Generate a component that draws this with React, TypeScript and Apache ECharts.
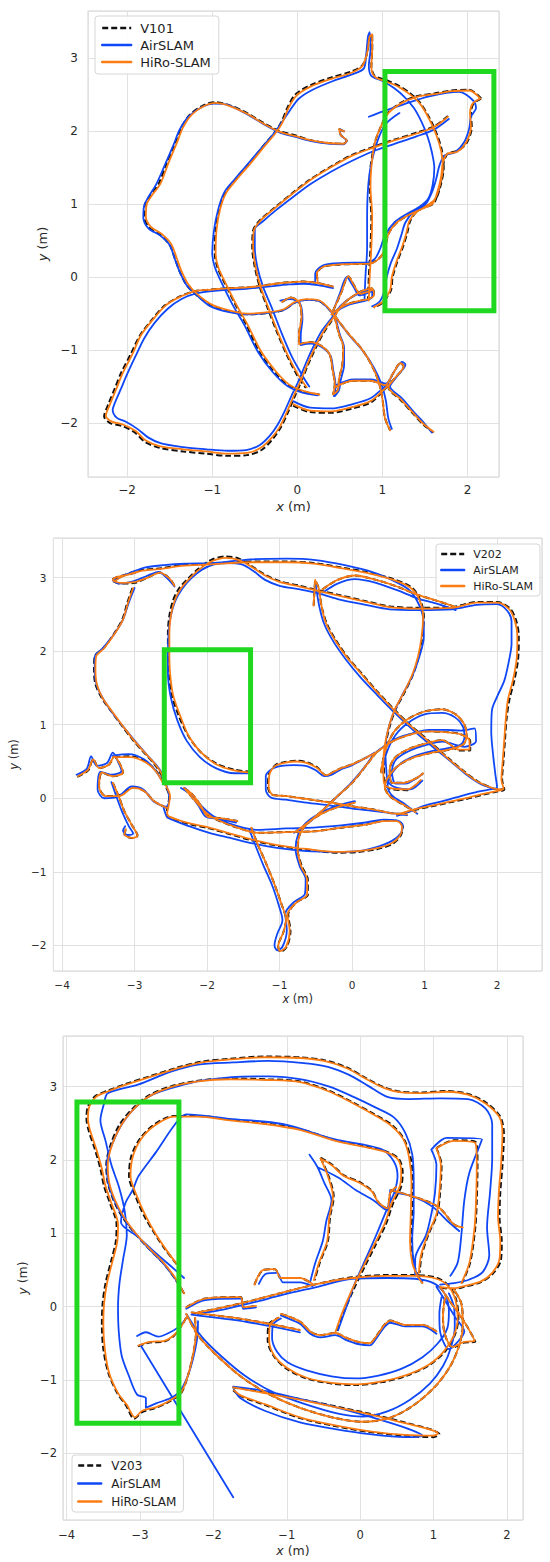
import { useEffect, useRef } from 'react';
import * as echarts from 'echarts';

// ---------- Panel 1 : V101 (strokes as flat x,y lists) ----------
const v101XRange = [-2.46, 2.37];
const v101YRange = [-2.74, 3.65];
const v101Box = [1.03, -0.46, 2.31, -0.46, 2.31, 2.82, 1.03, 2.82, 1.03, -0.46];

const v101HiRo: number[][] = [
  [0.55,2.0,0.49,2.03,0.51,1.95,0.58,1.87,0.54,1.83,0.36,1.84,0.15,1.88,-0.01,1.93,-0.22,2.0,-0.39,2.1,-0.59,2.24,-0.8,2.35,-0.97,2.39,-1.09,2.35,-1.24,2.23,-1.34,2.06,-1.42,1.83,-1.52,1.55,-1.61,1.28,-1.71,1.12,-1.77,1.0,-1.78,0.83,-1.72,0.69,-1.59,0.59,-1.48,0.45,-1.42,0.27,-1.36,0.08,-1.28,-0.1,-1.17,-0.24,-1.0,-0.38,-0.79,-0.46,-0.59,-0.5,-0.34,-0.48,-0.16,-0.44,-0.03,-0.34,0.11,-0.3,0.26,-0.32,0.38,-0.44,0.44,-0.55],
  [0.42,-0.13,0.24,-0.08,0.07,-0.06,-0.1,-0.07,-0.26,-0.09,-0.43,-0.12,-0.59,-0.14,-0.8,-0.15,-1.01,-0.17,-1.2,-0.19,-1.38,-0.27,-1.55,-0.39,-1.71,-0.6,-1.84,-0.8,-1.94,-1.06,-2.05,-1.31,-2.13,-1.54,-2.2,-1.74,-2.25,-1.9,-2.18,-1.98,-2.05,-2.02,-1.9,-2.11,-1.78,-2.24,-1.61,-2.32,-1.34,-2.36,-1.07,-2.39,-0.82,-2.42,-0.59,-2.41,-0.43,-2.34,-0.3,-2.2,-0.21,-2.06,-0.13,-1.87,-0.05,-1.65,0.04,-1.42,0.12,-1.19,0.21,-0.96,0.3,-0.76,0.38,-0.62,0.44,-0.53,0.52,-0.39,0.63,-0.28,0.76,-0.19,0.88,-0.15],
  [0.26,-1.61,0.07,-1.56,-0.1,-1.47,-0.26,-1.28,-0.43,-1.01,-0.59,-0.64,-0.72,-0.37,-0.84,-0.09,-0.93,0.14,-0.96,0.32,-0.95,0.64,-0.91,0.92,-0.84,1.15,-0.72,1.33,-0.55,1.56,-0.39,1.79,-0.26,1.97,-0.18,2.11,-0.1,2.33,-0.01,2.49,0.15,2.61,0.4,2.72,0.63,2.8,0.76,2.89,0.82,3.07,0.85,3.3,0.88,3.33,0.88,3.12,0.87,2.89,0.91,2.75,1.05,2.68,1.19,2.61,1.32,2.51,1.44,2.38,1.54,2.19,1.63,1.96,1.69,1.73,1.71,1.5,1.67,1.24,1.61,1.06,1.48,0.95,1.32,0.86,1.17,0.75,1.07,0.59,1.03,0.4,0.98,0.28,0.86,0.19,0.65,0.18,0.44,0.17,0.3,0.14,0.23,0.05,0.24,-0.07],
  [2.15,2.45,2.02,2.56,1.81,2.55,1.61,2.51,1.4,2.47,1.23,2.39,1.07,2.25,0.98,2.06,0.91,1.84,0.87,1.51,0.86,1.24,0.88,0.83,0.87,0.41,0.85,0.0,0.84,-0.32],
  [2.15,2.45,2.06,2.38,2.03,2.25,2.04,2.06,1.98,1.84,1.88,1.72,1.76,1.69,1.71,1.57,1.69,1.38,1.65,1.19,1.59,1.01,1.42,0.91,1.32,0.78,1.28,0.6,1.23,0.41,1.17,0.23,1.11,0.0,1.09,-0.18,1.0,-0.34,0.9,-0.41],
  [1.77,2.2,1.61,2.06,1.4,1.97,1.15,1.88,0.9,1.78,0.65,1.67,0.4,1.51,0.15,1.33,-0.05,1.15,-0.26,0.95,-0.43,0.78,-0.51,0.64,-0.52,0.41,-0.49,0.14,-0.43,-0.14,-0.34,-0.42,-0.22,-0.78,-0.1,-1.1,0.01,-1.34,0.11,-1.51],
  [-0.18,-0.34,-0.08,-0.28,0.02,-0.34,0.05,-0.55,0.02,-0.78,0.02,-0.92,0.15,-0.89,0.28,-0.94,0.38,-1.06,0.41,-1.24,0.44,-1.47,0.42,-1.61],
  [0.42,-0.46,0.51,-0.23,0.6,0.01,0.67,-0.12,0.74,-0.23,0.83,-0.2,0.89,-0.17,0.9,-0.25,0.83,-0.3,0.71,-0.33,0.59,-0.37,0.48,-0.44,0.4,-0.51],
  [0.44,-0.55,0.49,-0.78,0.54,-0.96,0.53,-1.19,0.49,-1.4,0.48,-1.54,0.42,-1.61],
  [0.44,-0.53,0.59,-0.76,0.76,-0.99,0.88,-1.22,0.96,-1.45,1.0,-1.67,1.03,-1.93,1.09,-2.1],
  [0.44,-1.51,0.65,-1.42,0.86,-1.42,1.03,-1.48,1.13,-1.31,1.21,-1.18,1.25,-1.22,1.15,-1.38,1.07,-1.51,1.21,-1.67,1.36,-1.86,1.48,-2.01,1.6,-2.12],
  [-0.05,-1.74,0.15,-1.83,0.4,-1.84,0.65,-1.78,0.86,-1.7,1.0,-1.56,1.07,-1.48],
];

const v101Truth: number[][] = [
  [0.55,2.0,0.49,2.03,0.51,1.95,0.58,1.87,0.54,1.83,0.36,1.84,0.15,1.88,-0.01,1.94,-0.22,2.01,-0.39,2.11,-0.59,2.25,-0.8,2.36,-0.97,2.4,-1.1,2.36,-1.26,2.23,-1.36,2.06,-1.44,1.83,-1.54,1.55,-1.63,1.28,-1.73,1.12,-1.79,1.0,-1.8,0.83,-1.74,0.68,-1.61,0.58,-1.5,0.44,-1.44,0.26,-1.38,0.07,-1.3,-0.11,-1.18,-0.25,-1.0,-0.39,-0.79,-0.47,-0.59,-0.51,-0.34,-0.49,-0.16,-0.45,-0.03,-0.35,0.11,-0.31,0.26,-0.33,0.38,-0.45,0.44,-0.56],
  [0.42,-0.13,0.24,-0.08,0.07,-0.06,-0.1,-0.07,-0.26,-0.09,-0.43,-0.12,-0.59,-0.14,-0.8,-0.15,-1.01,-0.17,-1.2,-0.19,-1.39,-0.27,-1.56,-0.39,-1.72,-0.6,-1.85,-0.8,-1.96,-1.06,-2.07,-1.31,-2.15,-1.54,-2.22,-1.74,-2.27,-1.91,-2.2,-2.0,-2.06,-2.04,-1.91,-2.13,-1.79,-2.26,-1.62,-2.34,-1.34,-2.39,-1.07,-2.42,-0.82,-2.45,-0.59,-2.44,-0.42,-2.37,-0.29,-2.22,-0.2,-2.07,-0.12,-1.88,-0.04,-1.66,0.05,-1.42,0.13,-1.19,0.22,-0.96,0.31,-0.76,0.39,-0.62,0.44,-0.53,0.52,-0.39,0.63,-0.28,0.76,-0.19,0.88,-0.15],
  [0.26,-1.61,0.07,-1.57,-0.11,-1.48,-0.28,-1.29,-0.45,-1.02,-0.6,-0.65,-0.73,-0.37,-0.85,-0.09,-0.94,0.14,-0.97,0.32,-0.96,0.64,-0.92,0.92,-0.85,1.15,-0.73,1.34,-0.56,1.57,-0.4,1.8,-0.27,1.98,-0.19,2.12,-0.11,2.34,-0.02,2.51,0.15,2.63,0.4,2.74,0.63,2.82,0.76,2.9,0.82,3.07,0.85,3.3,0.88,3.33,0.88,3.12,0.87,2.89,0.91,2.76,1.05,2.7,1.2,2.62,1.33,2.52,1.45,2.38,1.55,2.19,1.64,1.96,1.7,1.73,1.72,1.5,1.68,1.24,1.62,1.06,1.48,0.95,1.32,0.86,1.17,0.75,1.07,0.59,1.03,0.4,0.98,0.28,0.86,0.19,0.65,0.18,0.44,0.17,0.3,0.14,0.23,0.05,0.24,-0.07],
  [2.16,2.45,2.02,2.57,1.81,2.56,1.61,2.52,1.4,2.48,1.23,2.4,1.07,2.26,0.98,2.06,0.91,1.84,0.86,1.51,0.85,1.24,0.87,0.83,0.86,0.41,0.84,0.0,0.83,-0.32],
  [2.16,2.45,2.07,2.38,2.04,2.25,2.05,2.06,1.99,1.84,1.88,1.73,1.77,1.7,1.72,1.57,1.7,1.38,1.66,1.19,1.6,1.01,1.42,0.92,1.33,0.78,1.29,0.6,1.24,0.41,1.18,0.23,1.12,0.0,1.1,-0.18,1.0,-0.35,0.9,-0.42],
  [1.77,2.21,1.61,2.07,1.4,1.98,1.15,1.89,0.9,1.79,0.65,1.68,0.4,1.52,0.15,1.34,-0.05,1.16,-0.26,0.96,-0.44,0.78,-0.52,0.64,-0.53,0.41,-0.5,0.14,-0.44,-0.14,-0.35,-0.42,-0.23,-0.78,-0.11,-1.1,0.0,-1.35,0.1,-1.52],
  [-0.18,-0.34,-0.08,-0.28,0.02,-0.34,0.05,-0.55,0.02,-0.78,0.02,-0.92,0.15,-0.89,0.28,-0.94,0.38,-1.06,0.41,-1.24,0.44,-1.47,0.42,-1.61],
  [0.42,-0.46,0.51,-0.23,0.6,0.01,0.67,-0.12,0.74,-0.23,0.83,-0.2,0.89,-0.17,0.9,-0.25,0.83,-0.3,0.71,-0.33,0.59,-0.37,0.48,-0.44,0.4,-0.51],
  [0.44,-0.55,0.49,-0.78,0.54,-0.96,0.53,-1.19,0.49,-1.4,0.48,-1.54,0.42,-1.61],
  [0.44,-0.53,0.59,-0.76,0.76,-0.99,0.88,-1.22,0.96,-1.45,1.0,-1.67,1.03,-1.93,1.09,-2.1],
  [0.44,-1.51,0.65,-1.42,0.86,-1.42,1.03,-1.48,1.13,-1.31,1.21,-1.18,1.25,-1.22,1.15,-1.38,1.07,-1.51,1.21,-1.68,1.36,-1.87,1.48,-2.02,1.6,-2.13],
  [-0.05,-1.76,0.15,-1.85,0.4,-1.86,0.65,-1.8,0.86,-1.72,1.0,-1.57,1.07,-1.48],
];

const v101Air: number[][] = [
  [0.55,2.0,0.5,2.03,0.51,1.95,0.58,1.87,0.54,1.82,0.36,1.83,0.15,1.87,-0.01,1.92,-0.22,1.99,-0.4,2.1,-0.6,2.24,-0.81,2.36,-0.98,2.38,-1.11,2.34,-1.27,2.21,-1.38,2.03,-1.46,1.8,-1.56,1.53,-1.66,1.27,-1.75,1.1,-1.8,0.98,-1.81,0.82,-1.75,0.67,-1.61,0.57,-1.5,0.44,-1.44,0.25,-1.38,0.07,-1.3,-0.11,-1.18,-0.25,-1.02,-0.4,-0.8,-0.48,-0.58,-0.51,-0.34,-0.49,-0.16,-0.45,-0.03,-0.35,0.11,-0.31,0.26,-0.33,0.38,-0.45,0.44,-0.56],
  [0.42,-0.15,0.24,-0.11,0.07,-0.09,-0.1,-0.1,-0.26,-0.12,-0.43,-0.14,-0.6,-0.16,-0.8,-0.17,-1.0,-0.19,-1.18,-0.22,-1.36,-0.3,-1.52,-0.43,-1.68,-0.63,-1.8,-0.84,-1.9,-1.08,-2.0,-1.33,-2.08,-1.55,-2.15,-1.74,-2.17,-1.82,-2.12,-1.93,-2.02,-1.98,-1.88,-2.08,-1.75,-2.2,-1.6,-2.28,-1.34,-2.33,-1.07,-2.36,-0.82,-2.38,-0.6,-2.37,-0.44,-2.3,-0.32,-2.17,-0.23,-2.02,-0.15,-1.84,-0.07,-1.63,0.02,-1.41,0.1,-1.18,0.19,-0.95,0.28,-0.75,0.37,-0.61,0.43,-0.52,0.51,-0.39,0.62,-0.29,0.75,-0.21,0.87,-0.17],
  [0.24,-1.62,0.05,-1.58,-0.12,-1.49,-0.29,-1.3,-0.46,-1.03,-0.62,-0.66,-0.76,-0.38,-0.88,-0.1,-0.97,0.14,-1.0,0.33,-0.98,0.64,-0.93,0.93,-0.86,1.16,-0.73,1.35,-0.56,1.58,-0.4,1.8,-0.27,1.98,-0.19,2.11,-0.08,2.3,0.02,2.45,0.18,2.57,0.42,2.69,0.64,2.78,0.78,2.86,0.81,3.06,0.83,3.3,0.85,3.36,0.86,3.12,0.84,2.9,0.87,2.76,1.0,2.69,1.14,2.59,1.26,2.47,1.37,2.32,1.46,2.13,1.53,1.93,1.58,1.72,1.61,1.5,1.59,1.26,1.54,1.08,1.44,0.97,1.29,0.87,1.14,0.75,1.03,0.57,0.97,0.38,0.91,0.25,0.82,0.2,0.65,0.2,0.44,0.19,0.3,0.16,0.21,0.05,0.21,-0.07],
  [0.84,2.2,1.0,2.27,1.25,2.37,1.55,2.48,1.9,2.54,2.06,2.43,2.1,2.32,2.04,2.2,2.02,2.04,1.96,1.85,1.85,1.71,1.73,1.67,1.67,1.53,1.63,1.34,1.58,1.16,1.5,0.99,1.36,0.89,1.27,0.75,1.22,0.57,1.17,0.39,1.1,0.2,1.05,0.0,1.02,-0.2,0.97,-0.33,0.88,-0.4],
  [1.2,2.25,1.04,2.1,0.94,1.86,0.86,1.5,0.83,1.2,0.82,0.8,0.82,0.4,0.8,0.0,0.79,-0.3],
  [1.78,2.17,1.6,2.02,1.4,1.93,1.15,1.83,0.9,1.73,0.65,1.6,0.4,1.45,0.16,1.28,-0.05,1.1,-0.25,0.92,-0.41,0.76,-0.5,0.66,-0.5,0.41,-0.47,0.14,-0.4,-0.14,-0.3,-0.42,-0.18,-0.78,-0.06,-1.1,0.05,-1.33,0.14,-1.5],
  [-0.2,-0.32,-0.08,-0.3,0.03,-0.36,0.06,-0.57,0.04,-0.8,0.04,-0.93,0.16,-0.91,0.29,-0.96,0.39,-1.08,0.42,-1.26,0.45,-1.5,0.43,-1.63],
  [0.42,-0.47,0.5,-0.22,0.58,0.0,0.66,-0.13,0.73,-0.25,0.82,-0.22,0.88,-0.19,0.88,-0.27,0.81,-0.32,0.7,-0.35,0.58,-0.39,0.47,-0.46,0.41,-0.52],
  [0.45,-0.56,0.5,-0.79,0.55,-0.97,0.55,-1.2,0.51,-1.41,0.49,-1.55,0.44,-1.63],
  [0.45,-0.55,0.6,-0.78,0.77,-1.01,0.9,-1.24,0.99,-1.47,1.04,-1.69,1.07,-1.94,1.11,-2.08],
  [0.46,-1.48,0.66,-1.4,0.87,-1.4,1.04,-1.46,1.14,-1.29,1.23,-1.16,1.27,-1.2,1.17,-1.36,1.09,-1.5,1.23,-1.66,1.37,-1.85,1.49,-2.0,1.58,-2.13],
  [-0.05,-1.7,0.15,-1.79,0.4,-1.8,0.65,-1.74,0.86,-1.66,1.0,-1.53,1.07,-1.46],
];

// ---------- Panel 2 : V202 ----------
const v202XRange = [-4.12, 2.62];
const v202YRange = [-2.35, 3.54];
const v202Box = [-2.59, 0.21, -1.4, 0.21, -1.4, 2.02, -2.59, 2.02, -2.59, 0.21];

const v202HiRo: number[][] = [
  [-1.39,0.35,-1.63,0.38,-1.87,0.46,-2.08,0.62,-2.25,0.84,-2.37,1.12,-2.47,1.41,-2.51,1.7,-2.52,1.98,-2.52,2.25,-2.5,2.48,-2.45,2.68,-2.37,2.84,-2.25,2.98,-2.11,3.11,-1.94,3.22,-1.75,3.27,-1.56,3.24,-1.39,3.15,-1.2,3.03,-0.99,2.94,-0.72,2.88,-0.51,2.83,-0.2,2.76,0.19,2.67,0.52,2.6,0.9,2.58,1.38,2.59,1.72,2.66,2.0,2.66,2.16,2.58,2.24,2.43,2.28,2.2,2.27,1.89,2.22,1.61,2.15,1.34,2.12,1.07,2.1,0.8,2.08,0.53,2.06,0.25,2.09,0.13,2.0,0.1,1.81,0.06,1.57,0.0,1.33,-0.05,1.1,-0.1,0.86,-0.15,0.62,-0.22],
  [-3.28,2.95,-3.16,3.02,-2.92,3.09,-2.63,3.12,-2.35,3.16,-1.97,3.18,-1.39,3.21,-0.91,3.21,-0.53,3.19,-0.15,3.13,0.23,3.06,0.57,2.97,0.81,2.86,0.93,2.7,0.98,2.48,0.96,2.2,0.91,1.93,0.83,1.68,0.71,1.43,0.59,1.21,0.51,0.98,0.45,0.71,0.43,0.44,0.44,0.21,0.52,0.14,0.76,0.12,0.95,0.25],
  [-2.45,2.89,-2.52,2.99,-2.65,3.07,-2.82,3.0,-3.0,2.94,-3.2,2.93,-3.3,2.97,-3.24,3.01,-3.1,3.04,-2.95,3.08],
  [-3.02,2.86,-3.09,2.66,-3.16,2.43,-3.28,2.23,-3.42,2.04,-3.53,1.93,-3.54,1.75,-3.52,1.55,-3.44,1.36,-3.31,1.18,-3.16,0.98,-3.02,0.8,-2.86,0.62,-2.73,0.48,-2.63,0.34,-2.56,0.16,-2.51,0.03,-2.53,-0.1,-2.55,-0.21,-2.52,-0.25,-2.25,-0.34,-1.97,-0.4,-1.68,-0.48,-1.39,-0.56,-1.01,-0.64,-0.63,-0.69,-0.2,-0.73,0.09,-0.72,0.35,-0.68,0.55,-0.61,0.66,-0.51,0.69,-0.39,0.62,-0.31,0.43,-0.31,0.19,-0.36,-0.15,-0.4,-0.53,-0.45,-0.91,-0.46,-1.3,-0.47,-1.58,-0.4,-1.87,-0.29,-2.01,-0.2,-2.16,-0.04,-2.3,0.12],
  [-1.39,-0.4,-1.3,-0.63,-1.18,-0.9,-1.07,-1.17,-0.97,-1.45,-0.91,-1.65,-0.95,-1.83,-1.02,-2.01,-0.99,-2.08,-0.91,-2.02,-0.86,-1.81,-0.89,-1.58,-0.77,-1.42,-0.62,-1.31,-0.62,-1.11,-0.7,-0.93,-0.75,-0.7,-0.72,-0.49,-0.62,-0.35,-0.44,-0.22,-0.2,-0.12,0.04,-0.06],
  [-0.5,2.95,-0.46,2.86,-0.42,2.61,-0.36,2.38,-0.24,2.16,-0.08,1.93,0.12,1.7,0.33,1.46,0.57,1.21,0.81,0.98,1.05,0.78,1.29,0.57,1.53,0.37,1.74,0.22,1.96,0.13,2.08,0.12],
  [-0.53,2.62,-0.51,2.97],
  [-0.41,2.84,-0.2,2.97,0.04,3.03,0.33,2.97,0.62,2.88,0.9,2.77,1.19,2.68,1.43,2.6],
  [0.4,0.35,0.45,0.62,0.57,0.89,0.76,1.07,1.0,1.18,1.24,1.21,1.43,1.14,1.55,1.0,1.58,0.84,1.53,0.73,1.33,0.66,1.1,0.62,0.86,0.56,0.66,0.46,0.52,0.32,0.45,0.16,0.52,0.03,0.71,-0.09,0.88,-0.19],
  [0.33,0.62,0.57,0.78,0.81,0.87,1.05,0.91,1.29,0.9,1.5,0.87,1.62,0.78,1.62,0.66,1.48,0.66,1.24,0.79,1.0,0.74,0.76,0.66,0.59,0.55,0.52,0.39,0.55,0.21,0.71,0.21,0.9,0.28,0.98,0.34],
  [0.33,0.62,0.19,0.55,0.0,0.46,-0.15,0.41,-0.27,0.35,-0.36,0.31,-0.48,0.41,-0.63,0.48,-0.77,0.5,-0.94,0.48,-1.06,0.44,-1.14,0.32,-1.15,0.16,-1.1,0.05,-0.91,0.03,-0.63,-0.01,-0.29,-0.06,0.0,-0.11,0.28,-0.15,0.52,-0.2,0.76,-0.22],
  [-0.77,-0.45,-0.58,-0.31,-0.39,-0.15,-0.2,0.03,0.0,0.21,0.19,0.44,0.33,0.62],
  [-3.78,0.3,-3.64,0.39,-3.57,0.53,-3.49,0.41,-3.35,0.46,-3.28,0.57,-3.21,0.48,-3.16,0.35,-3.3,0.3,-3.45,0.35,-3.49,0.16,-3.4,0.03,-3.21,0.03,-3.02,0.14,-2.87,0.1,-2.73,-0.04,-2.56,-0.13],
  [-3.3,0.21,-3.22,0.03,-3.14,-0.18,-3.04,-0.36,-2.96,-0.51,-3.04,-0.54,-3.14,-0.49,-3.12,-0.42],
  [-3.28,0.56,-3.06,0.56,-2.85,0.49,-2.71,0.37,-2.61,0.21],
  [-2.32,0.14,-2.2,0.05,-2.08,-0.11,-1.99,-0.25,-1.82,-0.27,-1.58,-0.31],
];

const v202Truth: number[][] = [
  [-1.39,0.36,-1.63,0.39,-1.87,0.47,-2.09,0.63,-2.26,0.85,-2.39,1.12,-2.49,1.41,-2.53,1.7,-2.54,1.98,-2.54,2.25,-2.52,2.48,-2.47,2.69,-2.39,2.85,-2.26,2.99,-2.12,3.12,-1.95,3.24,-1.75,3.29,-1.56,3.26,-1.39,3.16,-1.2,3.04,-0.99,2.95,-0.72,2.89,-0.51,2.84,-0.2,2.77,0.19,2.68,0.52,2.61,0.9,2.59,1.38,2.6,1.72,2.67,2.0,2.67,2.17,2.59,2.26,2.43,2.3,2.2,2.29,1.89,2.24,1.61,2.17,1.34,2.13,1.07,2.11,0.8,2.09,0.53,2.07,0.25,2.1,0.12,2.0,0.09,1.81,0.05,1.57,-0.01,1.33,-0.06,1.1,-0.11,0.86,-0.16,0.62,-0.23],
  [-3.29,2.95,-3.16,3.03,-2.92,3.1,-2.63,3.13,-2.35,3.17,-1.97,3.19,-1.39,3.22,-0.91,3.22,-0.53,3.2,-0.15,3.14,0.23,3.07,0.57,2.98,0.82,2.87,0.94,2.7,0.99,2.48,0.97,2.2,0.92,1.93,0.84,1.68,0.72,1.43,0.6,1.21,0.52,0.98,0.46,0.71,0.44,0.44,0.45,0.21,0.52,0.13,0.76,0.11,0.95,0.24],
  [-2.45,2.89,-2.52,2.99,-2.65,3.07,-2.82,3.0,-3.0,2.93,-3.2,2.92,-3.31,2.97,-3.24,3.01,-3.1,3.04,-2.95,3.08],
  [-3.03,2.86,-3.1,2.66,-3.17,2.43,-3.29,2.23,-3.43,2.04,-3.55,1.93,-3.56,1.75,-3.54,1.55,-3.45,1.36,-3.32,1.18,-3.17,0.98,-3.03,0.8,-2.87,0.62,-2.74,0.48,-2.64,0.34,-2.57,0.16,-2.52,0.03,-2.54,-0.1,-2.56,-0.21,-2.52,-0.26,-2.25,-0.35,-1.97,-0.41,-1.68,-0.49,-1.39,-0.57,-1.01,-0.65,-0.63,-0.7,-0.2,-0.74,0.09,-0.73,0.35,-0.69,0.56,-0.62,0.67,-0.51,0.7,-0.39,0.62,-0.31,0.43,-0.31,0.19,-0.36,-0.15,-0.4,-0.53,-0.45,-0.91,-0.46,-1.3,-0.47,-1.58,-0.4,-1.87,-0.29,-2.01,-0.2,-2.16,-0.04,-2.3,0.12],
  [-1.39,-0.4,-1.3,-0.63,-1.18,-0.9,-1.07,-1.17,-0.97,-1.45,-0.91,-1.65,-0.95,-1.83,-1.02,-2.01,-0.99,-2.09,-0.9,-2.02,-0.85,-1.81,-0.88,-1.58,-0.77,-1.42,-0.61,-1.31,-0.61,-1.11,-0.69,-0.93,-0.75,-0.7,-0.72,-0.49,-0.62,-0.35,-0.44,-0.22,-0.2,-0.12,0.04,-0.06],
  [-0.5,2.95,-0.46,2.86,-0.42,2.61,-0.35,2.38,-0.23,2.16,-0.07,1.93,0.13,1.7,0.34,1.46,0.58,1.21,0.82,0.98,1.06,0.78,1.3,0.57,1.54,0.37,1.75,0.22,1.96,0.13,2.08,0.12],
  [-0.53,2.62,-0.51,2.97],
  [-0.41,2.84,-0.2,2.97,0.04,3.03,0.33,2.97,0.62,2.88,0.9,2.77,1.19,2.68,1.43,2.6],
  [0.4,0.35,0.45,0.62,0.57,0.89,0.76,1.07,1.0,1.18,1.24,1.21,1.43,1.14,1.55,1.0,1.58,0.84,1.53,0.73,1.33,0.66,1.1,0.62,0.86,0.56,0.66,0.46,0.52,0.32,0.45,0.16,0.52,0.03,0.71,-0.09,0.88,-0.19],
  [0.33,0.62,0.57,0.78,0.81,0.87,1.05,0.91,1.29,0.9,1.5,0.87,1.63,0.78,1.63,0.65,1.48,0.65,1.24,0.79,1.0,0.74,0.76,0.66,0.59,0.55,0.52,0.39,0.55,0.21,0.71,0.21,0.9,0.28,0.98,0.34],
  [0.33,0.62,0.19,0.55,0.0,0.46,-0.15,0.41,-0.27,0.35,-0.36,0.31,-0.48,0.42,-0.63,0.49,-0.77,0.51,-0.94,0.49,-1.06,0.45,-1.15,0.32,-1.16,0.16,-1.11,0.05,-0.91,0.03,-0.63,-0.01,-0.29,-0.06,0.0,-0.11,0.28,-0.15,0.52,-0.2,0.76,-0.22],
  [-0.77,-0.45,-0.58,-0.31,-0.39,-0.15,-0.2,0.03,0.0,0.21,0.19,0.44,0.33,0.62],
  [-3.79,0.29,-3.64,0.38,-3.57,0.53,-3.49,0.41,-3.35,0.46,-3.28,0.57,-3.21,0.48,-3.16,0.35,-3.3,0.3,-3.45,0.35,-3.49,0.16,-3.4,0.03,-3.21,0.04,-3.02,0.15,-2.87,0.1,-2.73,-0.04,-2.56,-0.13],
  [-3.3,0.21,-3.22,0.03,-3.14,-0.18,-3.04,-0.36,-2.96,-0.51,-3.04,-0.54,-3.14,-0.49,-3.12,-0.42],
  [-3.28,0.56,-3.06,0.57,-2.85,0.5,-2.7,0.37,-2.6,0.21],
  [-2.32,0.14,-2.2,0.05,-2.08,-0.11,-1.99,-0.25,-1.82,-0.27,-1.58,-0.31],
];

const v202Air: number[][] = [
  [-1.39,0.34,-1.62,0.34,-1.88,0.41,-2.1,0.56,-2.28,0.78,-2.41,1.06,-2.5,1.37,-2.54,1.7,-2.54,1.98,-2.53,2.25,-2.5,2.48,-2.44,2.68,-2.35,2.84,-2.22,2.99,-2.07,3.11,-1.9,3.18,-1.72,3.2,-1.52,3.18,-1.36,3.09,-1.2,2.97,-1.0,2.89,-0.72,2.84,-0.48,2.79,-0.2,2.71,0.19,2.63,0.52,2.57,0.9,2.56,1.38,2.57,1.72,2.63,2.0,2.64,2.14,2.55,2.2,2.4,2.2,2.1,2.16,1.85,2.1,1.6,2.0,1.38,1.93,1.2,1.92,0.9,1.95,0.55,1.98,0.3,2.0,0.15,1.9,0.12,1.7,0.08,1.5,0.03,1.25,-0.04,1.0,-0.1,0.8,-0.18,0.62,-0.24],
  [-3.28,2.96,-3.1,3.05,-2.85,3.14,-2.6,3.17,-2.3,3.19,-1.9,3.2,-1.4,3.25,-0.9,3.26,-0.5,3.24,-0.1,3.17,0.3,3.07,0.57,2.96,0.78,2.84,0.9,2.68,0.98,2.46,0.99,2.2,0.93,1.93,0.83,1.66,0.68,1.38,0.56,1.13,0.49,0.9,0.46,0.66,0.47,0.42,0.5,0.22,0.62,0.14,0.8,0.12,0.97,0.24],
  [-2.45,2.88,-2.55,2.99,-2.67,3.08,-2.84,3.02,-3.02,2.95,-3.22,2.92,-3.3,2.96],
  [-3.0,2.86,-3.08,2.66,-3.16,2.43,-3.29,2.22,-3.44,2.04,-3.55,1.92,-3.55,1.72,-3.52,1.53,-3.42,1.33,-3.28,1.13,-3.12,0.93,-2.97,0.75,-2.82,0.58,-2.7,0.45,-2.6,0.3,-2.55,0.14,-2.52,0.0,-2.55,-0.11,-2.6,-0.12,-2.57,-0.22,-2.55,-0.26,-2.25,-0.38,-1.97,-0.47,-1.68,-0.54,-1.39,-0.61,-1.01,-0.68,-0.63,-0.72,-0.2,-0.73,0.09,-0.72,0.35,-0.66,0.55,-0.58,0.67,-0.48,0.7,-0.37,0.62,-0.3,0.43,-0.29,0.19,-0.33,-0.15,-0.37,-0.53,-0.4,-0.91,-0.41,-1.3,-0.43,-1.58,-0.38,-1.87,-0.27,-2.01,-0.17,-2.16,-0.02,-2.31,0.14],
  [-1.42,-0.42,-1.33,-0.65,-1.22,-0.92,-1.1,-1.19,-1.01,-1.46,-0.96,-1.66,-1.03,-1.84,-1.07,-2.0,-1.03,-2.07,-0.96,-2.02,-0.9,-1.8,-0.92,-1.57,-0.8,-1.41,-0.65,-1.3,-0.64,-1.1,-0.72,-0.93,-0.78,-0.69,-0.74,-0.48,-0.64,-0.34,-0.46,-0.21,-0.2,-0.1,0.04,-0.04],
  [-0.5,2.9,-0.45,2.6,-0.38,2.36,-0.25,2.12,-0.08,1.88,0.12,1.64,0.35,1.4,0.6,1.15,0.85,0.92,1.1,0.71,1.35,0.51,1.58,0.32,1.8,0.18,2.0,0.12],
  [-0.4,2.8,-0.2,2.92,0.04,2.98,0.33,2.93,0.62,2.83,0.9,2.72,1.19,2.64,1.43,2.56],
  [0.42,0.35,0.47,0.6,0.6,0.86,0.78,1.03,1.0,1.14,1.24,1.16,1.42,1.1,1.53,0.97,1.55,0.83,1.5,0.73,1.32,0.68,1.1,0.64,0.88,0.58,0.68,0.48,0.55,0.34,0.49,0.17,0.55,0.04,0.73,-0.08,0.9,-0.21],
  [0.35,0.64,0.58,0.8,0.82,0.88,1.06,0.93,1.3,0.93,1.5,0.92,1.69,0.95,1.71,0.78,1.55,0.7,1.25,0.77,1.0,0.72,0.78,0.64,0.61,0.53,0.55,0.37,0.6,0.2,0.74,0.2,0.9,0.28,0.97,0.33],
  [0.31,0.62,0.17,0.54,-0.02,0.44,-0.16,0.39,-0.28,0.32,-0.38,0.3,-0.5,0.38,-0.64,0.44,-0.8,0.45,-0.97,0.44,-1.1,0.4,-1.19,0.3,-1.19,0.12,-1.12,0.01,-0.91,-0.02,-0.63,-0.06,-0.29,-0.1,0.0,-0.14,0.28,-0.17,0.52,-0.2,0.76,-0.23],
  [-0.8,-0.47,-0.6,-0.33,-0.41,-0.17,-0.22,0.01,-0.03,0.19,0.17,0.42,0.31,0.62],
  [-3.8,0.32,-3.66,0.4,-3.6,0.57,-3.52,0.44,-3.38,0.48,-3.3,0.62,-3.23,0.5,-3.18,0.37,-3.32,0.32,-3.47,0.36,-3.51,0.12,-3.42,0.0,-3.23,0.02,-3.04,0.16,-2.88,0.12,-2.74,-0.04,-2.58,-0.12],
  [-3.32,0.22,-3.25,0.02,-3.17,-0.19,-3.08,-0.38,-3.02,-0.48,-3.1,-0.5,-3.16,-0.44,-3.13,-0.38],
  [-3.3,0.58,-3.08,0.6,-2.87,0.53,-2.73,0.4,-2.62,0.24],
  [-2.36,0.14,-2.24,0.06,-2.12,-0.1,-2.02,-0.25,-1.85,-0.28,-1.6,-0.33],
];

// ---------- Panel 3 : V203 ----------
const v203XRange = [-4.05, 2.22];
const v203YRange = [-2.91, 3.69];
const v203Box = [-3.86, -1.59, -2.47, -1.59, -2.47, 2.79, -3.86, 2.79, -3.86, -1.59];

const v203HiRo: number[][] = [
  [-2.25,-0.15,-2.24,-0.39,-2.28,-0.67,-2.35,-0.95,-2.44,-1.17,-2.59,-1.28,-2.78,-1.37,-2.97,-1.42,-3.07,-1.51,-3.18,-1.34,-3.3,-1.18,-3.42,-0.91,-3.48,-0.58,-3.5,-0.25,-3.49,0.04,-3.45,0.32,-3.38,0.6,-3.31,0.89,-3.3,1.12,-3.39,1.41,-3.47,1.64,-3.52,1.88,-3.6,2.16,-3.68,2.4,-3.71,2.56,-3.69,2.73,-3.6,2.86,-3.45,2.93,-3.21,3.02,-2.87,3.13,-2.49,3.25,-2.16,3.33,-1.78,3.37,-1.3,3.4,-0.82,3.39,-0.49,3.35,-0.18,3.25,0.09,3.1,0.33,2.98,0.56,2.92,0.85,2.91,1.18,2.93,1.47,2.89,1.71,2.77,1.9,2.58,1.94,2.35,1.92,1.93,1.89,1.55,1.88,1.22,1.91,0.89,1.9,0.65,1.8,0.46,1.64,0.34,1.42,0.28,1.28,0.25,1.09,0.27],
  [-2.4,0.18,-2.52,0.39,-2.68,0.6,-2.87,0.79,-3.06,1.0,-3.22,1.22,-3.34,1.45,-3.42,1.69,-3.44,1.93,-3.38,2.21,-3.26,2.47,-3.09,2.69,-2.87,2.87,-2.59,2.99,-2.21,3.07,-1.78,3.1,-1.25,3.09,-0.82,3.06,-0.44,2.94,-0.11,2.78,0.18,2.62,0.42,2.47,0.59,2.28,0.67,2.02,0.7,1.69,0.69,1.26,0.68,0.89,0.71,0.6,0.78,0.42,0.85,0.32],
  [-2.5,0.58,-2.64,0.77,-2.78,0.98,-2.92,1.23,-3.04,1.5,-3.13,1.78,-3.1,2.04,-2.99,2.28,-2.8,2.47,-2.54,2.59,-2.21,2.59,-1.78,2.54,-1.3,2.49,-0.82,2.41,-0.34,2.26,0.09,2.17,0.37,2.1,0.52,2.0,0.56,1.83,0.54,1.64,0.43,1.41,0.33,1.12,0.19,0.84,0.05,0.56,-0.11,0.23,-0.25,-0.1,-0.34,-0.36],
  [-2.21,-0.08,-1.82,0.0,-1.44,0.09,-1.06,0.19,-0.58,0.31,-0.11,0.39,0.37,0.42,0.75,0.42,1.04,0.38,1.21,0.27,1.3,0.09,1.33,-0.15,1.28,-0.39,1.15,-0.6,0.94,-0.79,0.64,-0.93,0.3,-1.02,-0.06,-1.06,-0.39,-1.04,-0.73,-0.97,-0.99,-0.84,-1.17,-0.67,-1.24,-0.46,-1.23,-0.25,-1.11,-0.15],
  [-2.37,-0.1,-2.21,-0.39,-1.97,-0.65,-1.63,-0.95,-1.25,-1.19,-0.82,-1.38,-0.34,-1.52,0.04,-1.57,0.42,-1.51,0.75,-1.33,1.04,-1.07,1.23,-0.81,1.35,-0.53,1.4,-0.25,1.38,0.04,1.28,0.23],
  [-1.73,-1.1,-1.3,-1.18,-0.82,-1.27,-0.34,-1.37,0.13,-1.47,0.61,-1.59,0.97,-1.68,1.06,-1.73,0.99,-1.76,0.61,-1.75,0.13,-1.7,-0.34,-1.62,-0.82,-1.51,-1.3,-1.33,-1.63,-1.21,-1.72,-1.14],
  [-3.02,-0.53,-2.87,-0.48,-2.68,-0.47,-2.54,-0.39,-2.44,-0.27,-2.37,-0.15],
  [-2.37,-0.01,-2.11,0.11,-1.63,0.13,-1.59,-0.01,-1.42,0.01],
  [-1.44,0.3,-1.32,0.5,-1.16,0.51,-1.08,0.39,-0.82,0.39,-0.65,0.31],
  [-0.54,2.02,-0.39,1.93,-0.22,1.78,-0.01,1.69,0.16,1.57,0.25,1.42,0.37,1.34,0.41,1.55,0.49,1.63],
  [-0.54,2.02,-0.44,1.78,-0.37,1.5,-0.42,1.22,-0.45,0.89,-0.56,0.6,-0.63,0.36],
  [1.04,2.16,1.28,2.26,1.57,2.23,1.59,1.93,1.58,1.45,1.56,1.08,1.49,0.6,1.38,0.32],
  [1.04,2.16,1.1,1.93,1.08,1.55,1.04,1.26,0.92,0.98,0.83,0.7,0.8,0.46],
  [0.42,1.59,0.66,1.52,0.9,1.44,1.09,1.34,1.28,1.12,1.4,1.08],
  [-1.08,-0.1,-0.96,-0.14,-0.81,-0.21,-0.68,-0.34,-0.54,-0.39,-0.34,-0.36,-0.18,-0.43,-0.03,-0.48,0.13,-0.5,0.23,-0.39,0.33,-0.25,0.41,-0.19,0.61,-0.25,0.85,-0.25,1.04,-0.34],
  [-2.3,-0.08,-1.54,-0.18,-0.82,-0.32],
  [1.09,0.27,1.21,0.09,1.35,-0.1,1.47,-0.29,1.56,-0.47,1.42,-0.48,1.26,-0.55,1.15,-0.36,1.13,-0.1,1.16,0.13],
];

const v203Truth: number[][] = [
  [-2.25,-0.15,-2.24,-0.39,-2.28,-0.67,-2.35,-0.95,-2.44,-1.18,-2.59,-1.29,-2.78,-1.38,-2.97,-1.44,-3.08,-1.53,-3.19,-1.35,-3.31,-1.18,-3.43,-0.91,-3.5,-0.58,-3.52,-0.25,-3.51,0.04,-3.47,0.32,-3.4,0.6,-3.33,0.89,-3.32,1.12,-3.41,1.41,-3.49,1.64,-3.54,1.88,-3.62,2.16,-3.7,2.4,-3.73,2.56,-3.71,2.73,-3.61,2.87,-3.45,2.94,-3.21,3.03,-2.87,3.14,-2.49,3.26,-2.16,3.34,-1.78,3.38,-1.3,3.41,-0.82,3.4,-0.49,3.36,-0.18,3.26,0.09,3.11,0.33,2.99,0.56,2.93,0.85,2.92,1.18,2.94,1.47,2.9,1.72,2.78,1.91,2.59,1.96,2.35,1.94,1.93,1.91,1.55,1.9,1.22,1.93,0.89,1.92,0.64,1.81,0.45,1.64,0.33,1.42,0.27,1.28,0.24,1.09,0.26],
  [-2.4,0.18,-2.53,0.39,-2.69,0.6,-2.88,0.79,-3.07,1.0,-3.24,1.22,-3.36,1.45,-3.44,1.69,-3.46,1.93,-3.4,2.21,-3.28,2.48,-3.1,2.7,-2.88,2.88,-2.59,3.0,-2.21,3.08,-1.78,3.11,-1.25,3.1,-0.82,3.07,-0.44,2.95,-0.11,2.79,0.18,2.63,0.43,2.48,0.6,2.28,0.69,2.02,0.72,1.69,0.71,1.26,0.7,0.89,0.73,0.6,0.79,0.42,0.85,0.32],
  [-2.5,0.58,-2.65,0.77,-2.79,0.98,-2.94,1.23,-3.06,1.5,-3.15,1.78,-3.12,2.05,-3.0,2.29,-2.81,2.48,-2.54,2.6,-2.21,2.6,-1.78,2.55,-1.3,2.5,-0.82,2.42,-0.34,2.27,0.09,2.18,0.37,2.11,0.53,2.01,0.58,1.83,0.56,1.64,0.45,1.41,0.35,1.12,0.21,0.84,0.07,0.56,-0.09,0.23,-0.23,-0.1,-0.32,-0.36],
  [-2.21,-0.08,-1.82,0.0,-1.44,0.09,-1.06,0.19,-0.58,0.31,-0.11,0.4,0.37,0.43,0.75,0.43,1.05,0.39,1.22,0.27,1.31,0.09,1.34,-0.15,1.29,-0.39,1.16,-0.61,0.94,-0.8,0.64,-0.94,0.3,-1.03,-0.06,-1.07,-0.39,-1.05,-0.73,-0.98,-1.0,-0.85,-1.18,-0.67,-1.26,-0.46,-1.25,-0.25,-1.11,-0.15],
  [-2.37,-0.1,-2.21,-0.39,-1.97,-0.65,-1.63,-0.95,-1.25,-1.19,-0.82,-1.38,-0.34,-1.52,0.04,-1.57,0.42,-1.51,0.75,-1.33,1.04,-1.07,1.23,-0.81,1.35,-0.53,1.4,-0.25,1.38,0.04,1.28,0.23],
  [-1.74,-1.1,-1.3,-1.17,-0.82,-1.26,-0.34,-1.36,0.13,-1.46,0.61,-1.58,0.98,-1.68,1.08,-1.74,1.0,-1.78,0.61,-1.76,0.13,-1.71,-0.34,-1.63,-0.82,-1.52,-1.3,-1.34,-1.63,-1.22,-1.73,-1.14],
  [-3.03,-0.54,-2.87,-0.49,-2.68,-0.48,-2.54,-0.4,-2.44,-0.27,-2.37,-0.15],
  [-2.37,-0.01,-2.11,0.11,-1.63,0.13,-1.59,-0.01,-1.42,0.01],
  [-1.44,0.3,-1.32,0.5,-1.16,0.51,-1.08,0.39,-0.82,0.39,-0.65,0.31],
  [-0.54,2.03,-0.39,1.94,-0.22,1.79,-0.01,1.7,0.16,1.58,0.25,1.42,0.37,1.34,0.41,1.55,0.49,1.63],
  [-0.54,2.03,-0.43,1.78,-0.36,1.5,-0.41,1.22,-0.44,0.89,-0.55,0.6,-0.62,0.36],
  [1.04,2.16,1.28,2.27,1.58,2.24,1.6,1.93,1.59,1.45,1.57,1.08,1.5,0.6,1.39,0.32],
  [1.04,2.16,1.11,1.93,1.09,1.55,1.05,1.26,0.93,0.98,0.84,0.7,0.81,0.46],
  [0.42,1.59,0.66,1.52,0.9,1.44,1.09,1.34,1.28,1.12,1.4,1.08],
  [-1.08,-0.1,-0.96,-0.14,-0.81,-0.21,-0.68,-0.34,-0.54,-0.39,-0.34,-0.36,-0.18,-0.43,-0.03,-0.48,0.13,-0.5,0.23,-0.39,0.33,-0.25,0.41,-0.19,0.61,-0.25,0.85,-0.25,1.04,-0.34],
  [-2.3,-0.08,-1.54,-0.18,-0.82,-0.32],
  [1.09,0.27,1.21,0.09,1.35,-0.1,1.47,-0.29,1.57,-0.48,1.42,-0.49,1.26,-0.56,1.15,-0.36,1.13,-0.1,1.16,0.13],
];

const v203Air: number[][] = [
  [-2.21,-0.2,-2.22,-0.43,-2.28,-0.72,-2.37,-1.0,-2.47,-1.17,-2.59,-1.25,-2.78,-1.32,-2.92,-1.38,-2.92,-1.25,-3.04,-1.2,-3.15,-0.95,-3.25,-0.67,-3.29,-0.34,-3.3,-0.01,-3.28,0.32,-3.23,0.65,-3.18,0.98,-3.21,1.31,-3.29,1.64,-3.39,1.93,-3.47,2.26,-3.54,2.54,-3.49,2.77,-3.44,2.91,-3.02,3.03,-2.59,3.2,-2.21,3.3,-1.73,3.33,-1.25,3.35,-0.77,3.32,-0.44,3.27,-0.15,3.16,0.11,3.01,0.37,2.86,0.66,2.83,1.09,2.84,1.47,2.83,1.71,2.7,1.8,2.49,1.8,2.02,1.77,1.55,1.73,1.08,1.76,0.7,1.67,0.47,1.49,0.37,1.28,0.32,1.09,0.3],
  [-2.42,0.22,-2.55,0.42,-2.71,0.62,-2.9,0.81,-3.08,1.02,-3.24,1.24,-3.36,1.47,-3.44,1.72,-3.45,1.97,-3.37,2.24,-3.24,2.5,-3.06,2.72,-2.83,2.89,-2.5,3.0,-2.16,3.08,-1.75,3.13,-1.25,3.14,-0.8,3.1,-0.42,3.0,-0.09,2.86,0.2,2.72,0.46,2.58,0.62,2.36,0.71,2.08,0.73,1.72,0.73,1.3,0.71,0.92,0.73,0.6,0.78,0.43,0.85,0.35],
  [-2.4,0.39,-2.59,0.56,-2.83,0.77,-3.04,0.96,-3.26,1.15,-3.2,1.41,-3.1,1.59,-3.02,1.78,-2.78,2.11,-2.52,2.49,-2.37,2.62,-1.78,2.56,-1.06,2.49,-0.34,2.28,0.28,2.15,0.46,1.98,0.51,1.78,0.47,1.57,0.37,1.34,0.23,1.0,0.09,0.68,-0.07,0.32,-0.19,-0.01,-0.3,-0.32],
  [-2.21,-0.1,-1.82,-0.03,-1.44,0.06,-1.06,0.16,-0.58,0.27,-0.11,0.38,0.37,0.39,0.75,0.38,1.0,0.32,1.15,0.18,1.21,-0.06,1.19,-0.29,1.06,-0.5,0.85,-0.69,0.56,-0.85,0.25,-0.94,-0.06,-0.98,-0.39,-0.95,-0.73,-0.87,-0.99,-0.76,-1.13,-0.62,-1.2,-0.43,-1.19,-0.25,-1.08,-0.16],
  [-2.35,-0.13,-2.16,-0.41,-1.9,-0.67,-1.56,-0.95,-1.18,-1.17,-0.75,-1.33,-0.3,-1.46,0.04,-1.5,0.37,-1.43,0.68,-1.27,0.95,-1.05,1.13,-0.81,1.24,-0.55,1.29,-0.27,1.28,-0.01,1.21,0.18],
  [-1.73,-1.09,-1.3,-1.15,-0.82,-1.26,-0.34,-1.37,0.13,-1.5,0.61,-1.65,0.85,-1.76,0.61,-1.78,0.13,-1.74,-0.34,-1.67,-0.82,-1.58,-1.3,-1.42,-1.63,-1.25,-1.72,-1.13],
  [-3.04,-0.4,-2.92,-0.35,-2.75,-0.41,-2.61,-0.36,-2.49,-0.29,-2.4,-0.2],
  [-2.99,-0.53,-1.73,-2.6],
  [-2.37,-0.03,-2.11,0.09,-1.63,0.11,-1.59,-0.03,-1.42,-0.01],
  [-1.38,0.31,-1.28,0.45,-1.13,0.46,-1.05,0.33,-0.82,0.33,-0.65,0.28],
  [-0.69,2.07,-0.58,1.9,-0.49,1.69,-0.39,1.45,-0.46,1.17,-0.51,0.89,-0.61,0.6,-0.68,0.34],
  [-0.58,1.9,-0.3,1.76,-0.06,1.59,0.18,1.45,0.37,1.31,0.41,1.59],
  [0.97,2.14,1.18,2.3,1.66,2.28,1.49,1.83,1.42,1.45,1.38,0.98,1.33,0.6,1.23,0.42],
  [0.97,2.14,1.04,1.93,1.02,1.55,0.97,1.26,0.9,0.98,0.75,0.65,0.75,0.42],
  [0.47,1.55,0.73,1.5,0.99,1.36,1.21,1.15,1.35,1.03],
  [-1.08,-0.12,-0.96,-0.17,-0.81,-0.24,-0.68,-0.37,-0.54,-0.42,-0.34,-0.39,-0.18,-0.46,-0.03,-0.51,0.13,-0.53,0.23,-0.42,0.33,-0.28,0.41,-0.22,0.61,-0.27,0.85,-0.27,1.04,-0.37],
  [-2.3,-0.11,-1.54,-0.21,-0.82,-0.35],
  [1.04,0.27,1.16,0.08,1.3,-0.15,1.42,-0.34,1.33,-0.48,1.21,-0.58,1.09,-0.34,1.08,-0.1,1.11,0.13],
];

const seriesNames = ['AirSLAM', 'HiRo-SLAM'];
const FONT = 'DejaVu Sans';
const BLUE = '#0f47f7';
const ORANGE = '#fb7c12';
const GREEN = '#1fd81f';
const TEXT = '#2a2a2a';

const panels = [
  {
    truthName: 'V101', truth: v101Truth, air: v101Air, hiro: v101HiRo, box: v101Box, xr: v101XRange, yr: v101YRange,
    grid: { left: 88, top: 11, width: 411, height: 466 }, tick: 12, label: 13, mx: 7, my: 10, ngx: 23, ngy: 38,
    legend: { left: 95, top: 16, itemWidth: 29, itemGap: 3, fontSize: 13, lineHeight: 14, padding: [5, 8, 5, 6], tp: 4 },
  },
  {
    truthName: 'V202', truth: v202Truth, air: v202Air, hiro: v202HiRo, box: v202Box, xr: v202XRange, yr: v202YRange,
    grid: { left: 46, top: 538, width: 496, height: 433 }, tick: 10.5, label: 11.5, mx: 8, my: 7, ngx: 22, ngy: 28,
    legend: { left: 436, top: 544, itemWidth: 23, itemGap: 4, fontSize: 11, lineHeight: 12, padding: [4, 7, 4, 4], tp: 4 },
  },
  {
    truthName: 'V203', truth: v203Truth, air: v203Air, hiro: v203HiRo, box: v203Box, xr: v203XRange, yr: v203YRange,
    grid: { left: 63, top: 1036, width: 460, height: 484 }, tick: 11.5, label: 12.5, mx: 9, my: 6, ngx: 24, ngy: 31,
    legend: { left: 72, top: 1455, itemWidth: 23, itemGap: 5, fontSize: 12, lineHeight: 13, padding: [4, 7, 4, 5], tp: 5 },
  },
];

function toData(strokes: number[][]) {
  const out: any[] = [];
  strokes.forEach((s, i) => {
    if (i > 0) out.push(['-', '-']);
    for (let j = 0; j + 1 < s.length; j += 2) out.push([s[j], s[j + 1]]);
  });
  return out;
}

function fmt(v: number) {
  const r = Math.round(v);
  if (Math.abs(v - r) > 1e-6) return '';
  return String(r).replace('-', '\u2212');
}

export default function App() {
  const ref = useRef<HTMLDivElement>(null);
  useEffect(() => {
    if (!ref.current) return;
    const chart = echarts.init(ref.current, undefined, { renderer: 'svg' });
    const grid: any[] = [];
    const xAxis: any[] = [];
    const yAxis: any[] = [];
    const legend: any[] = [];
    const series: any[] = [];
    panels.forEach((p, i) => {
      grid.push({ ...p.grid, show: true, borderColor: '#d2d2d2', borderWidth: 1, backgroundColor: '#ffffff', containLabel: false });
      const common = {
        type: 'value', gridIndex: i, splitNumber: 5,
        axisLine: { show: false }, axisTick: { show: false },
        splitLine: { show: true, lineStyle: { color: '#e1e1e1', width: 1 } },
        nameLocation: 'middle',
        nameTextStyle: {
          fontSize: p.label, color: TEXT, fontFamily: FONT,
          rich: { i: { fontStyle: 'italic', fontSize: p.label, color: TEXT, fontFamily: FONT } },
        },
      };
      xAxis.push({
        ...common, min: p.xr[0], max: p.xr[1], name: '{i|x} (m)', nameGap: p.ngx,
        axisLabel: { formatter: fmt, color: TEXT, fontSize: p.tick, fontFamily: FONT, margin: p.mx },
      });
      yAxis.push({
        ...common, min: p.yr[0], max: p.yr[1], name: '{i|y} (m)', nameGap: p.ngy, nameRotate: 90,
        axisLabel: { formatter: fmt, color: TEXT, fontSize: p.tick, fontFamily: FONT, margin: p.my },
      });
      const L = p.legend;
      legend.push({
        data: [p.truthName, ...seriesNames], orient: 'vertical', left: L.left, top: L.top,
        itemWidth: L.itemWidth, itemHeight: 8, itemGap: L.itemGap, padding: L.padding,
        backgroundColor: 'rgba(255,255,255,0.85)', borderColor: '#d6d6d6', borderWidth: 1, borderRadius: 3,
        selectedMode: false,
        itemStyle: { opacity: 0, borderWidth: 0 },
        lineStyle: { width: 2.4 },
        textStyle: { fontSize: L.fontSize, fontFamily: FONT, color: '#1e1e1e', lineHeight: L.lineHeight, padding: [0, 0, 0, L.tp] },
      });
      const base = {
        type: 'line', xAxisIndex: i, yAxisIndex: i, symbol: 'none', showSymbol: false, smooth: 0.3,
        connectNulls: false, clip: true, silent: true, emphasis: { disabled: true },
      };
      series.push({ ...base, name: p.truthName, data: toData(p.truth), z: 2,
        itemStyle: { color: '#111111' }, lineStyle: { color: '#111111', width: 2, type: [6, 3], cap: 'butt' } });
      series.push({ ...base, name: 'AirSLAM', data: toData(p.air), z: 3,
        itemStyle: { color: BLUE }, lineStyle: { color: BLUE, width: 1.8, cap: 'round', join: 'round' } });
      series.push({ ...base, name: 'HiRo-SLAM', data: toData(p.hiro), z: 4,
        itemStyle: { color: ORANGE }, lineStyle: { color: ORANGE, width: 1.8, cap: 'round', join: 'round' } });
      series.push({ ...base, name: 'box' + (i + 1), smooth: false, data: toData([p.box]), z: 5,
        itemStyle: { color: GREEN }, lineStyle: { color: GREEN, width: 5, join: 'miter', cap: 'square' } });
    });
    chart.setOption({
      animation: false,
      backgroundColor: '#ffffff',
      textStyle: { fontFamily: FONT },
      grid, xAxis, yAxis, legend, series,
    });
    return () => chart.dispose();
  }, []);
  return <div ref={ref} style={{ position: 'absolute', left: 0, top: 0, width: 550, height: 1562 }} />;
}
